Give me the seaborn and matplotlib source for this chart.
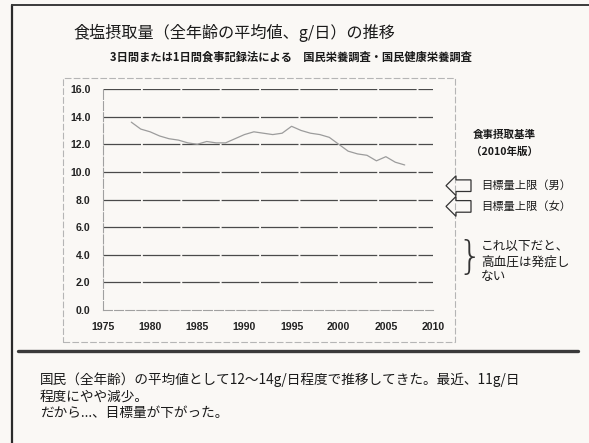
import matplotlib
matplotlib.use("Agg")
import matplotlib.pyplot as plt
import matplotlib.patches as mpatches
from matplotlib.lines import Line2D
from matplotlib.transforms import blended_transform_factory
import numpy as np
import pandas as pd
import seaborn as sns

# Mean daily salt intake (g/day, all ages) by survey year
years = [1978, 1979, 1980, 1981, 1982, 1983, 1984, 1985, 1986, 1987,
         1988, 1989, 1990, 1991, 1992, 1993, 1994, 1995, 1996, 1997,
         1998, 1999, 2000, 2001, 2002, 2003, 2004, 2005, 2006, 2007]
salt = [13.6, 13.1, 12.9, 12.6, 12.4, 12.3, 12.1, 12.0, 12.2, 12.1,
        12.1, 12.4, 12.7, 12.9, 12.8, 12.7, 12.8, 13.3, 13.0, 12.8,
        12.7, 12.5, 12.0, 11.5, 11.3, 11.2, 10.8, 11.1, 10.7, 10.5]

x_ticks = [1975, 1980, 1985, 1990, 1995, 2000, 2005, 2010]
y_ticks = [0, 2, 4, 6, 8, 10, 12, 14, 16]

# Dietary reference intakes (2010 edition): upper target values
target_labels = ["目標量上限（男）", "目標量上限（女）"]
target_values = [9.0, 7.5]
# Range below which hypertension does not develop
safe_range = [2.7, 4.9]

title = "食塩摂取量（全年齢の平均値、g/日）の推移"
subtitle = "3日間または1日間食事記録法による　国民栄養調査・国民健康栄養調査"
ref_title = ["食事摂取基準", "（2010年版）"]
safe_text = "これ以下だと、\n高血圧は発症し\nない"
note_lines = ["国民（全年齢）の平均値として12～14g/日程度で推移してきた。最近、11g/日",
              "程度にやや減少。",
              "だから...、目標量が下がった。"]

df = pd.DataFrame({"year": years, "salt": salt})

sns.set_theme(style="white")
JP = ["Noto Sans CJK JP", "DejaVu Sans"]
plt.rcParams["font.family"] = JP

W, H = 589, 443
BG = "#faf8f5"
fig = plt.figure(figsize=(W / 100, H / 100), dpi=100, facecolor=BG)


def fx(px):
    return px / W


def fy(py):
    return 1 - py / H


# plot area in pixel bounds
left, right, top, bottom = 103, 433, 89, 310
ax = fig.add_axes([fx(left), fy(bottom), fx(right) - fx(left), fy(top) - fy(bottom)])
ax.set_facecolor("none")

sns.lineplot(data=df, x="year", y="salt", ax=ax, color="#9c9c9c", linewidth=0.9)

ax.set_xlim(1975, 2010)
ax.set_ylim(0, 16)
ax.set_xticks(x_ticks)
ax.set_yticks(y_ticks)
ax.set_yticklabels([f"{v:.1f}" for v in y_ticks])
ax.set_xlabel("")
ax.set_ylabel("")

for v in y_ticks[1:]:
    ax.axhline(v, color="#4a4a4a", linewidth=0.9, linestyle=(0, (30, 1.5)), zorder=0)

for s in ["top", "right"]:
    ax.spines[s].set_visible(False)
for s in ["left", "bottom"]:
    ax.spines[s].set_color("#a0a0a0")
    ax.spines[s].set_linewidth(0.8)
    ax.spines[s].set_linestyle((0, (8, 2)))

ax.tick_params(axis="both", which="major", length=3, width=0.6, color="#a0a0a0",
               labelsize=7.6, labelcolor="#222222", pad=6)
for lab in ax.get_xticklabels() + ax.get_yticklabels():
    lab.set_fontfamily("Liberation Sans")
    lab.set_fontweight("bold")

# dashed frame around the chart
fig.add_artist(mpatches.Rectangle((fx(63), fy(342)), fx(455) - fx(63), fy(78) - fy(342),
                                  transform=fig.transFigure, fill=False,
                                  edgecolor="#b5b5b5", linewidth=0.8,
                                  linestyle=(0, (6, 2))))

# slide frame and separator
fig.add_artist(Line2D([fx(12), fx(12)], [fy(5), fy(443)], color="#2a2a2a", linewidth=1.6))
fig.add_artist(Line2D([fx(12), fx(589)], [fy(5), fy(5)], color="#3a3a3a", linewidth=1.4))
fig.add_artist(Line2D([fx(18), fx(578)], [fy(351), fy(351)], color="#3a3a3a", linewidth=2.4))

# titles
fig.text(fx(73), fy(33), title, fontsize=11.6, color="#1a1a1a", va="center", ha="left")
fig.text(fx(110), fy(57), subtitle, fontsize=8.1, color="#1a1a1a", va="center", ha="left",
         fontweight="bold")

# reference intake annotations
fig.text(fx(504), fy(135), ref_title[0], fontsize=7.6, color="#1a1a1a", va="center",
         ha="center", fontweight="bold")
fig.text(fx(504), fy(152), ref_title[1], fontsize=7.6, color="#1a1a1a", va="center",
         ha="center", fontweight="bold")

bt = blended_transform_factory(fig.transFigure, ax.transData)
for lab, val in zip(target_labels, target_values):
    tip, neck, end = fx(446), fx(456), fx(471)
    bh, hh = 0.42, 0.72
    pts = [(tip, val), (neck, val + hh), (neck, val + bh), (end, val + bh),
           (end, val - bh), (neck, val - bh), (neck, val - hh)]
    fig.add_artist(mpatches.Polygon(pts, closed=True, transform=bt, fill=False,
                                    edgecolor="#333333", linewidth=0.9, clip_on=False))
    fig.text(fx(481), val, lab, transform=bt, fontsize=8.1, color="#1a1a1a",
             va="center", ha="left")

mid = sum(safe_range) / 2
fig.text(fx(457), mid, "}", transform=bt, fontsize=28, color="#333333",
         va="center", ha="left", fontfamily="DejaVu Sans", fontweight="light")
fig.text(fx(481), mid - 0.3, safe_text, transform=bt, fontsize=9.1, color="#1a1a1a",
         va="center", ha="left", linespacing=1.2)

# summary note
for i, line in enumerate(note_lines):
    fig.text(fx(40), fy(380 + 16.5 * i), line, fontsize=9.8, color="#1a1a1a",
             va="center", ha="left")

fig.savefig("out.png", dpi=100, facecolor=BG)
